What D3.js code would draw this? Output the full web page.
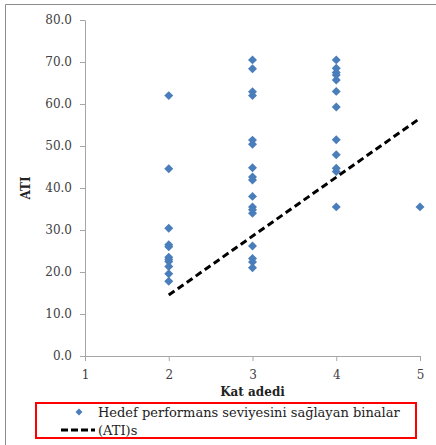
<!DOCTYPE html>
<html>
<head>
<meta charset="utf-8">
<script src="https://cdn.jsdelivr.net/npm/d3@7"></script>
<style>
  body { margin: 0; background: #fff; }
  svg { display: block; font-family: "DejaVu Serif", serif; }
  .tick text { fill: #404040; font-size: 12px; }
</style>
</head>
<body>
<svg id="chart" width="436" height="445"></svg>
<script>
// ---------- Data ----------
const floors2 = [62.0, 44.6, 30.4, 26.5, 26.0, 23.5, 23.0, 22.5, 21.3, 19.6, 17.8];
const floors3 = [70.5, 68.4, 62.9, 62.0, 51.4, 50.4, 44.8, 42.6, 41.9, 38.0, 35.5, 34.8, 34.0, 26.2, 23.2, 22.4, 21.0];
const floors4 = [70.5, 68.5, 67.5, 66.9, 65.7, 63.0, 59.3, 51.5, 47.9, 44.7, 43.9, 35.5];
const floors5 = [35.5];
const trendX = [2, 5];
const trendY = [14.5, 56.6];
const xTicks = [1, 2, 3, 4, 5];
const yTicks = [0, 10, 20, 30, 40, 50, 60, 70, 80];

const points = [
  ...floors2.map(v => ({ k: 2, v })),
  ...floors3.map(v => ({ k: 3, v })),
  ...floors4.map(v => ({ k: 4, v })),
  ...floors5.map(v => ({ k: 5, v }))
];
const trend = trendX.map((k, i) => ({ k, v: trendY[i] }));

const svg = d3.select('#chart');
const axisColor = '#a6a6a6';

// outer chart frame (top and left edges show)
svg.append('path')
  .attr('d', 'M5.5,445 V4.5 H436')
  .attr('fill', 'none')
  .attr('stroke', '#8c8c8c')
  .attr('stroke-width', 1);

// ---------- Scales ----------
const x = d3.scaleLinear().domain([1, 5]).range([85, 420]);
const y = d3.scaleLinear().domain([0, 80]).range([356, 20]);

// ---------- Axes ----------
const yAxis = svg.append('g')
  .attr('transform', `translate(${x(1)},0)`)
  .call(d3.axisLeft(y).tickValues(yTicks).tickFormat(d3.format('.1f')).tickSize(5).tickPadding(8));

const xAxis = svg.append('g')
  .attr('transform', `translate(0,${y(0)})`)
  .call(d3.axisBottom(x).tickValues(xTicks).tickFormat(d3.format('d')).tickSize(5).tickPadding(9));

[yAxis, xAxis].forEach(a => {
  a.select('.domain').attr('stroke', axisColor);
  a.selectAll('.tick line').attr('stroke', axisColor);
  a.selectAll('.tick text').style('font-family', '"DejaVu Serif", serif');
});

// axis titles
svg.append('text')
  .attr('x', (x(1) + x(5)) / 2)
  .attr('y', 396)
  .attr('text-anchor', 'middle')
  .attr('font-size', 12)
  .attr('font-weight', 'bold')
  .attr('fill', '#222')
  .text('Kat adedi');

svg.append('text')
  .attr('transform', `translate(30,${(y(0) + y(80)) / 2}) rotate(-90)`)
  .attr('text-anchor', 'middle')
  .attr('font-size', 12)
  .attr('font-weight', 'bold')
  .attr('fill', '#222')
  .text('ATI');

// ---------- Points ----------
const diamond = d3.symbol(d3.symbolSquare, 40);
svg.append('g')
  .selectAll('path')
  .data(points)
  .join('path')
  .attr('d', diamond)
  .attr('transform', d => `translate(${x(d.k)},${y(d.v)}) rotate(45)`)
  .attr('fill', '#4a7ebb');

// ---------- Trend line ----------
const line = d3.line().x(d => x(d.k)).y(d => y(d.v));
svg.append('path')
  .datum(trend)
  .attr('d', line)
  .attr('fill', 'none')
  .attr('stroke', '#000')
  .attr('stroke-width', 3)
  .attr('stroke-dasharray', '7,4');

// ---------- Legend ----------
const legend = svg.append('g');
legend.append('rect')
  .attr('x', 36).attr('y', 403)
  .attr('width', 380).attr('height', 35)
  .attr('fill', 'none')
  .attr('stroke', '#ff0000')
  .attr('stroke-width', 2);

legend.append('path')
  .attr('d', d3.symbol(d3.symbolSquare, 24))
  .attr('transform', 'translate(79,412) rotate(45)')
  .attr('fill', '#4a7ebb');

legend.append('line')
  .attr('x1', 61).attr('x2', 95)
  .attr('y1', 430).attr('y2', 430)
  .attr('stroke', '#000')
  .attr('stroke-width', 3)
  .attr('stroke-dasharray', '7,3');

legend.selectAll('text')
  .data(['Hedef performans seviyesini sağlayan binalar', '(ATI)s'])
  .join('text')
  .attr('x', 98)
  .attr('y', (d, i) => 417 + i * 18)
  .attr('font-size', 13)
  .attr('fill', '#222')
  .text(d => d);
</script>
</body>
</html>
